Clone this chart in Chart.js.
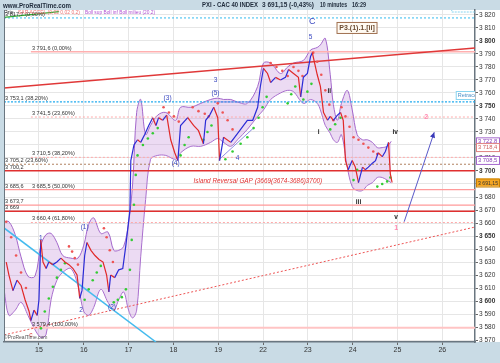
<!DOCTYPE html>
<html>
<head>
<meta charset="utf-8">
<script src="https://cdn.jsdelivr.net/npm/chart.js@4.4.1/dist/chart.umd.min.js"></script>
<style>
  html, body { margin: 0; padding: 0; background: #c9dbe5; }
  #wrap { width: 500px; height: 363px; position: relative; }
</style>
</head>
<body>
<div id="wrap"><canvas id="cac"></canvas></div>
<script>
// time axis: 1 unit = 1 trading day, label sits on the day boundary
const dayTicks = [1, 2, 3, 4, 5, 6, 7, 8, 9, 10];
const dayLabels = ["15", "16", "17", "18", "19", "22", "23", "24", "25", "26"];
const yTicks = [3570, 3580, 3590, 3600, 3610, 3620, 3630, 3640, 3650, 3660, 3670, 3680, 3690,
  3700, 3710, 3720, 3730, 3740, 3750, 3760, 3770, 3780, 3790, 3800, 3810, 3820];

// PXI - CAC 40, 10 minutes
const priceT = [0.27, 0.33, 0.42, 0.51, 0.60, 0.69, 0.78, 0.82, 0.89, 0.96, 1.00, 1.04, 1.09, 1.16, 1.22, 1.31,
  1.40, 1.49, 1.58, 1.67, 1.76, 1.85, 1.91, 1.96, 2.02, 2.07, 2.16, 2.25, 2.34, 2.43, 2.51, 2.56, 2.60, 2.69,
  2.78, 2.87, 2.94, 2.98, 3.03, 3.05, 3.12, 3.20, 3.27, 3.36, 3.45, 3.54, 3.61, 3.67, 3.76, 3.85, 3.94, 4.03,
  4.10, 4.16, 4.32, 4.45, 4.56, 4.67, 4.72, 4.81, 4.90, 4.99, 5.03, 5.12, 5.28, 5.37, 5.50, 5.65, 5.77, 5.88,
  5.94, 6.01, 6.10, 6.17, 6.28, 6.39, 6.50, 6.57, 6.68, 6.79, 6.84, 6.90, 6.99, 7.06, 7.10, 7.17, 7.21, 7.28,
  7.35, 7.44, 7.50, 7.57, 7.66, 7.73, 7.79, 7.84, 7.90, 7.99, 8.06, 8.13, 8.22, 8.28, 8.35, 8.44, 8.51, 8.57,
  8.66, 8.73, 8.80, 8.84, 8.88];
const priceV = [3630, 3620, 3608, 3616, 3612, 3601, 3592, 3585, 3593, 3589, 3601, 3647, 3630, 3625, 3630, 3628,
  3630, 3633, 3630, 3628, 3625, 3620, 3602, 3608, 3635, 3645, 3639, 3635, 3632, 3630, 3620, 3607, 3620, 3618,
  3624, 3625, 3643, 3655, 3670, 3708, 3720, 3724, 3722, 3728, 3735, 3741, 3735, 3741, 3739, 3743, 3724, 3714,
  3708, 3735, 3741, 3735, 3731, 3721, 3739, 3743, 3749, 3741, 3708, 3726, 3722, 3726, 3732, 3739, 3739, 3749,
  3765, 3779, 3775, 3768, 3772, 3770, 3772, 3778, 3775, 3772, 3757, 3772, 3775, 3788, 3791, 3780, 3774, 3765,
  3745, 3739, 3742, 3739, 3743, 3745, 3739, 3708, 3701, 3708, 3703, 3691, 3703, 3701, 3703, 3706, 3708, 3714,
  3711, 3715, 3722, 3698, 3691.15];

// Bollinger (20,2)
const bandT = [0.22, 0.33, 0.47, 0.60, 0.755, 0.91, 1.045, 1.156, 1.27, 1.40, 1.53, 1.71, 1.87, 2.00, 2.11, 2.22,
  2.38, 2.54, 2.67, 2.78, 2.89, 3.00, 3.09, 3.18, 3.27, 3.38, 3.49, 3.65, 3.83, 4.05, 4.16, 4.39, 4.61, 4.83,
  4.99, 5.12, 5.28, 5.43, 5.65, 5.88, 6.01, 6.17, 6.39, 6.55, 6.68, 6.90, 7.06, 7.21, 7.28, 7.39, 7.50, 7.57,
  7.66, 7.75, 7.88, 7.99, 8.10, 8.22, 8.33, 8.44, 8.55, 8.66, 8.77, 8.86];
const bollUp = [3661, 3661, 3651, 3634, 3619, 3619, 3643, 3651, 3652, 3645, 3635, 3633, 3633, 3643, 3659, 3664,
  3652, 3653, 3639, 3639, 3642, 3660, 3690, 3745, 3755, 3728, 3735, 3743, 3745, 3739, 3749, 3749, 3752, 3755,
  3756, 3755, 3755, 3753, 3752, 3765, 3783, 3783, 3775, 3780, 3783, 3785, 3793, 3795, 3797, 3802, 3774, 3751,
  3739, 3752, 3762, 3747, 3728, 3724, 3724, 3722, 3718, 3718, 3719, 3722.8];
const bollDown = [3609, 3589, 3593, 3599, 3589, 3578, 3572, 3574, 3601, 3616, 3622, 3625, 3612, 3592, 3589, 3595,
  3609, 3599, 3593, 3601, 3607, 3593, 3587, 3593, 3634, 3678, 3709, 3712, 3712, 3709, 3714, 3719, 3719, 3722,
  3725, 3722, 3719, 3724, 3732, 3742, 3747, 3755, 3760, 3762, 3761, 3752, 3755, 3752, 3747, 3735, 3729, 3724,
  3722, 3728, 3703, 3688, 3685, 3685, 3689, 3691, 3695, 3695, 3693, 3691];

// SAR
const sarRedT = [0.27, 0.38, 0.49, 0.60, 0.71, 1.67, 1.74, 1.80, 1.87, 2.45, 2.51, 2.58, 2.65, 3.78, 3.90, 4.01,
  4.12, 4.43, 4.56, 4.70, 4.79, 4.99, 5.10, 5.21, 5.32, 6.17, 6.30, 6.43, 6.55, 6.68, 6.79, 6.88, 7.12, 7.21,
  7.30, 7.39, 7.48, 7.57, 7.75, 7.84, 7.93, 8.02, 8.13, 8.24, 8.35, 8.46, 8.55];
const sarRedV = [3661, 3649, 3635, 3622, 3610, 3642, 3638, 3633, 3628, 3656, 3649, 3639, 3630, 3749, 3745, 3742,
  3738, 3749, 3746, 3744, 3742, 3752, 3745, 3739, 3732, 3783, 3780, 3777, 3773, 3780, 3777, 3773, 3791, 3784,
  3774, 3762, 3751, 3739, 3749, 3742, 3734, 3726, 3724, 3721, 3718, 3715, 3713];
const sarGreenT = [1.045, 1.13, 1.22, 1.31, 1.40, 1.49, 1.58, 2.02, 2.11, 2.20, 2.29, 2.38, 2.67, 2.76, 2.85, 2.94,
  3.03, 3.07, 3.12, 3.16, 3.20, 3.32, 3.43, 3.54, 3.65, 4.16, 4.25, 4.34, 4.67, 4.76, 4.85, 5.16, 5.32, 5.50,
  5.65, 5.79, 5.90, 5.99, 6.08, 6.55, 6.63, 6.72, 6.90, 6.99, 7.08, 7.50, 7.61, 7.73, 8.02, 8.10, 8.55, 8.66,
  8.77, 8.84];
const sarGreenV = [3579, 3592, 3602, 3611, 3618, 3624, 3629, 3601, 3609, 3616, 3622, 3627, 3599, 3601, 3603, 3609,
  3624, 3647, 3674, 3697, 3712, 3720, 3725, 3729, 3733, 3712, 3720, 3726, 3724, 3730, 3735, 3709, 3715, 3721,
  3726, 3733, 3741, 3749, 3757, 3752, 3759, 3765, 3755, 3761, 3767, 3732, 3736, 3741, 3693, 3701, 3688, 3690,
  3692, 3695];

// horizontal levels (retracements, gap)
const levelValues = [3817.7, 3791.6, 3753.1, 3741.5, 3710.5, 3705.2, 3700.2, 3685.6, 3673.7, 3669, 3660.4, 3579.4];
const levelStart = [0.22, 0.82, 0.22, 0.82, 0.82, 0.22, 0.22, 0.22, 0.22, 0.22, 0.82, 0.82];
const fibText = ["3 817,7 (0,00%)", "3 791,6 (0,00%)", "3 753,1 (38,20%)", "3 741,5 (23,60%)", "3 710,5 (38,20%)",
  "3 705,2 (23,60%)", "3 700,2", "3 685,6", "3 685,5 (50,00%)", "3 673,7", "3 669", "3 660,4 (61,80%)", "3 579,4 (100,00%)"];
const fibT = [0.22, 0.82, 0.22, 0.82, 0.82, 0.22, 0.22, 0.22, 0.82, 0.22, 0.22, 0.82, 0.82];
const fibV = [3817.7, 3791.6, 3753.1, 3741.5, 3710.5, 3705.2, 3700.2, 3685.6, 3685.5, 3673.7, 3669, 3660.4, 3579.4];

// drawn trendlines [start, end] as [t, price]
const redTrend = [[0.22, 3763.8], [10.73, 3794.6]];
const redDotTrend = [[0.22, 3573.9], [10.73, 3656.9]];
const cyanTrend = [[0.22, 3656.2], [3.61, 3568.5]];
const greenTrend = [[0.22, 3818.1], [1.45, 3822.6]];
const blueTrend1 = [[5.01, 3708.5], [5.79, 3733.1]];
const blueTrend2 = [[4.90, 3753.1], [5.94, 3753.1]];
const arrowPath = [[9.15, 3661], [9.82, 3729.8]];

// Elliott counts
const waveText = ["c", "1", "2", "(1)", "(2)", "(3)", "(4)", "3", "(5)", "4", "5", "C", "i", "ii", "iii", "iv", "v", "1", "2"];
const waveT = [0.82, 1.04, 1.94, 2.02, 2.63, 3.87, 4.05, 4.94, 4.94, 5.43, 7.06, 7.10, 7.24, 7.48, 8.13, 8.95, 8.97, 8.97, 9.64];
const waveP = [3574, 3648, 3593, 3657, 3595, 3756, 3706, 3770, 3760, 3710, 3803, 3815, 3729.5, 3761, 3676, 3729.5, 3664.6, 3656, 3741.5];

// last values shown on the price axis
const lastValues = [3722.8, 3718.4, 3708.5, 3691.15];
const lastText = ["3 722,8", "3 718,4", "3 708,5", "3 691,15"];

const X_MIN = 0.22, X_MAX = 10.73;
const FONT = "'Liberation Sans', Arial, sans-serif";

const levelStyle = [
  { c: "#33bbee", w: 1, d: [2, 2] },
  { c: "#ffb0b0", w: 1.5, d: [] },
  { c: "#22aaee", w: 1.2, d: [2, 1.5] },
  { c: "#ffaaaa", w: 1, d: [2, 2] },
  { c: "#ffaaaa", w: 1, d: [2, 2] },
  { c: "#b08060", w: 1, d: [2, 2] },
  { c: "#e03030", w: 1.5, d: [] },
  { c: "#ff9a9a", w: 1.2, d: [] },
  { c: "#ff9a9a", w: 1.2, d: [] },
  { c: "#e03030", w: 1.5, d: [] },
  { c: "#ffaaaa", w: 1, d: [2, 2] },
  { c: "#ffc4c4", w: 2, d: [] }
];

const pts = (ts, vs) => ts.map((t, i) => ({ x: t, y: vs[i] }));
const seg = arr => arr.map(p => ({ x: p[0], y: p[1] }));
const lineDs = (data, color, width, dash) => ({
  data, showLine: true, borderColor: color, borderWidth: width, borderDash: dash || [],
  pointRadius: 0, fill: false
});

const datasets = [];
datasets.push({
  data: pts(priceT, priceV), showLine: true, borderWidth: 1.2, pointRadius: 0,
  borderColor: "#2b2bd6",
  segment: { borderColor: c => c.p1.parsed.y >= c.p0.parsed.y ? "#2b2bd6" : "#e02828" }
});
datasets.push({ data: pts(sarRedT, sarRedV), pointRadius: 1.3, pointBorderWidth: 0, pointBackgroundColor: "#ee5555" });
datasets.push({ data: pts(sarGreenT, sarGreenV), pointRadius: 1.3, pointBorderWidth: 0, pointBackgroundColor: "#33cc33" });
datasets.push(lineDs(seg(blueTrend1), "#7070dd", 0.8));
datasets.push(lineDs(seg(blueTrend2), "#7070dd", 0.8));
datasets.push(lineDs(seg(redTrend), "#e03838", 1.5));
datasets.push(lineDs(seg(redDotTrend), "#ee5555", 1, [2, 2]));
datasets.push(lineDs(seg(cyanTrend), "#44bbee", 1.5));
datasets.push(lineDs(seg(greenTrend), "#33aa33", 1.2));
levelValues.forEach((v, i) => {
  const s = levelStyle[i];
  datasets.push(lineDs([{ x: levelStart[i], y: v }, { x: X_MAX, y: v }], s.c, s.w, s.d));
});
datasets.push({
  data: pts(bandT, bollUp), showLine: true, borderColor: "#a468cc", borderWidth: 1, pointRadius: 0,
  tension: 0.35, fill: "+1", backgroundColor: "rgba(200,150,220,0.34)"
});
datasets.push({
  data: pts(bandT, bollDown), showLine: true, borderColor: "#a468cc", borderWidth: 1, pointRadius: 0,
  tension: 0.35, fill: false
});

function txt(ctx, s, x, y, font, color, align, base, maxW) {
  ctx.font = font;
  ctx.fillStyle = color;
  ctx.textAlign = align || "left";
  ctx.textBaseline = base || "middle";
  if (maxW) ctx.fillText(s, x, y, maxW);
  else ctx.fillText(s, x, y);
}

const decor = {
  id: "decor",
  beforeDraw(chart) {
    const ctx = chart.ctx, a = chart.chartArea;
    ctx.save();
    ctx.fillStyle = "#c9dbe5";
    ctx.fillRect(0, 0, chart.width, chart.height);
    ctx.fillStyle = "#ffffff";
    ctx.fillRect(a.left, a.top, chart.width - a.left, a.bottom - a.top);
    ctx.restore();
  },
  afterDatasetsDraw(chart) {
    const ctx = chart.ctx, a = chart.chartArea;
    const xs = chart.scales.x, ys = chart.scales.y;
    ctx.save();
    ctx.beginPath();
    ctx.rect(a.left, a.top, a.right - a.left, a.bottom - a.top);
    ctx.clip();

    // retracement labels
    fibText.forEach((s, i) => {
      txt(ctx, s, xs.getPixelForValue(fibT[i]) + 1, ys.getPixelForValue(fibV[i]) - 0.8, "5.6px " + FONT, "#333", "left", "bottom");
    });

    // gap note
    txt(ctx, "Island Reversal GAP (3669(3674-3686)3700)", xs.getPixelForValue(4.45), ys.getPixelForValue(3692.3),
      "italic 6.4px " + FONT, "#e03030");

    // wave counts
    waveText.forEach((s, i) => {
      let col = "#3a48c0", f = "6.5px " + FONT;
      if (i === 0) col = "#e03030";
      if (i === 11) f = "9px " + FONT;
      if (i >= 12 && i <= 16) { col = "#222"; f = "bold 6.5px " + FONT; }
      if (i >= 17) { col = "#ff88b0"; f = "bold 7px " + FONT; }
      txt(ctx, s, xs.getPixelForValue(waveT[i]), ys.getPixelForValue(waveP[i]), f, col, "center");
    });

    // arrow
    const ax0 = xs.getPixelForValue(arrowPath[0][0]), ay0 = ys.getPixelForValue(arrowPath[0][1]);
    const ax1 = xs.getPixelForValue(arrowPath[1][0]), ay1 = ys.getPixelForValue(arrowPath[1][1]);
    ctx.strokeStyle = "#5858c8";
    ctx.lineWidth = 1;
    ctx.beginPath(); ctx.moveTo(ax0, ay0); ctx.lineTo(ax1, ay1); ctx.stroke();
    const ang = Math.atan2(ay1 - ay0, ax1 - ax0);
    ctx.fillStyle = "#3838b8";
    ctx.beginPath();
    ctx.moveTo(ax1, ay1);
    ctx.lineTo(ax1 - 6 * Math.cos(ang - 0.45), ay1 - 6 * Math.sin(ang - 0.45));
    ctx.lineTo(ax1 - 6 * Math.cos(ang + 0.45), ay1 - 6 * Math.sin(ang + 0.45));
    ctx.closePath(); ctx.fill();

    // wave label box
    const bx = xs.getPixelForValue(7.64), by = ys.getPixelForValue(3814.6);
    ctx.fillStyle = "#fffaf2";
    ctx.fillRect(bx, by, 40, 11);
    ctx.strokeStyle = "#a07050";
    ctx.lineWidth = 1;
    ctx.strokeRect(bx + 0.5, by + 0.5, 40, 11);
    txt(ctx, "P3.(1).1.[ii]", bx + 20.5, by + 6, "bold 7px " + FONT, "#6a4a30", "center");

    // retracement tool tag at right edge
    const rx = xs.getPixelForValue(10.3), ry = ys.getPixelForValue(3761.5);
    ctx.fillStyle = "#ffffff";
    ctx.fillRect(rx, ry, 30, 8);
    ctx.strokeStyle = "#88d4f0";
    ctx.strokeRect(rx + 0.5, ry + 0.5, 30, 8);
    txt(ctx, "Retracement", rx + 2, ry + 4.5, "5.5px " + FONT, "#4a90c8");
    ctx.setLineDash([2, 1]);
    ctx.strokeRect(xs.getPixelForValue(10.2) + 0.5, a.top - 3, 30, 5);
    ctx.setLineDash([]);
    ctx.restore();

    // last values on the axis
    ctx.save();
    const boxCol = [
      { b: "#a468cc", t: "#8a40b8", f: "#ffffff" },
      { b: "#e08080", t: "#d06060", f: "#ffffff" },
      { b: "#a468cc", t: "#8a40b8", f: "#ffffff" },
      { b: "#c88000", t: "#333333", f: "#f5a623" }
    ];
    lastValues.forEach((v, i) => {
      const y = ys.getPixelForValue(v);
      const c = boxCol[i];
      ctx.fillStyle = c.f;
      ctx.fillRect(a.right + 1, y - 4, 23, 8);
      ctx.strokeStyle = c.b;
      ctx.lineWidth = 1;
      ctx.strokeRect(a.right + 1.5, y - 3.5, 23, 8);
      txt(ctx, lastText[i], a.right + 3, y + 0.5, "5.8px " + FONT, c.t, "left", "middle", 20);
    });

    // header
    txt(ctx, "www.ProRealTime.com", 3, 5.5, "bold 8px " + FONT, "#1e2a3a", "left", "middle", 68);
    const hf = "bold 6.6px " + FONT;
    txt(ctx, "PXI - CAC 40 INDEX", 202, 5.5, hf, "#1e2a3a", "left", "middle", 56);
    txt(ctx, "3 691,15 (-0,43%)", 262, 5.5, hf, "#1e2a3a", "left", "middle", 52);
    txt(ctx, "10 minutes", 320, 5.5, hf, "#1e2a3a", "left", "middle", 27);
    txt(ctx, "16:29", 352, 5.5, hf, "#1e2a3a", "left", "middle", 14);

    // indicator legend
    txt(ctx, "Prix", 4, 12.5, "5.5px " + FONT, "#333");
    txt(ctx, "SAR ACCEL (0,02 0,02 0,2)", 18, 12.5, "5.5px " + FONT, "#ee7070", "left", "middle", 62);
    txt(ctx, "Boll sup Boll inf Boll milieu (20,2)", 85, 12.5, "5.5px " + FONT, "#b050d0", "left", "middle", 70);
    txt(ctx, "\u00a9ProRealTime.com", 4, a.bottom - 4, "5px " + FONT, "#555");

    // left frame line
    ctx.strokeStyle = "#6a7680";
    ctx.lineWidth = 1;
    ctx.beginPath(); ctx.moveTo(a.left + 0.5, a.top); ctx.lineTo(a.left + 0.5, a.bottom); ctx.stroke();
    ctx.restore();
  }
};

new Chart(document.getElementById("cac"), {
  type: "scatter",
  data: { datasets },
  options: {
    responsive: true,
    maintainAspectRatio: false,
    animation: false,
    devicePixelRatio: 1,
    layout: { padding: { left: 3, top: 10, right: 0, bottom: 0 } },
    plugins: { legend: { display: false }, tooltip: { enabled: false } },
    scales: {
      x: {
        type: "linear",
        min: X_MIN,
        max: X_MAX,
        afterBuildTicks: ax => { ax.ticks = dayTicks.map(v => ({ value: v })); },
        afterFit: ax => { ax.height = 21; },
        ticks: {
          autoSkip: false, maxRotation: 0, padding: 1, color: "#333",
          font: { size: 7, family: FONT },
          callback: v => dayLabels[dayTicks.indexOf(v)]
        },
        grid: { color: "#e6e6e6", tickLength: 3, tickColor: "#666" },
        border: { color: "#6a7680", width: 1.5 }
      },
      y: {
        position: "right",
        min: 3568.5,
        max: 3823.8,
        afterBuildTicks: ax => { ax.ticks = yTicks.map(v => ({ value: v })); },
        afterFit: ax => { ax.width = 25; },
        ticks: {
          autoSkip: false, padding: 1, color: "#333",
          font: c => ({ size: 6.5, family: FONT, weight: c.tick && c.tick.value % 50 === 0 ? "bold" : "normal" }),
          callback: v => String(v).replace(/(\d)(\d{3})$/, "$1 $2")
        },
        grid: { color: "#e6e6e6", tickLength: 3, tickColor: "#666" },
        border: { color: "#6a7680", width: 1.5 }
      }
    }
  },
  plugins: [decor]
});
</script>
</body>
</html>
